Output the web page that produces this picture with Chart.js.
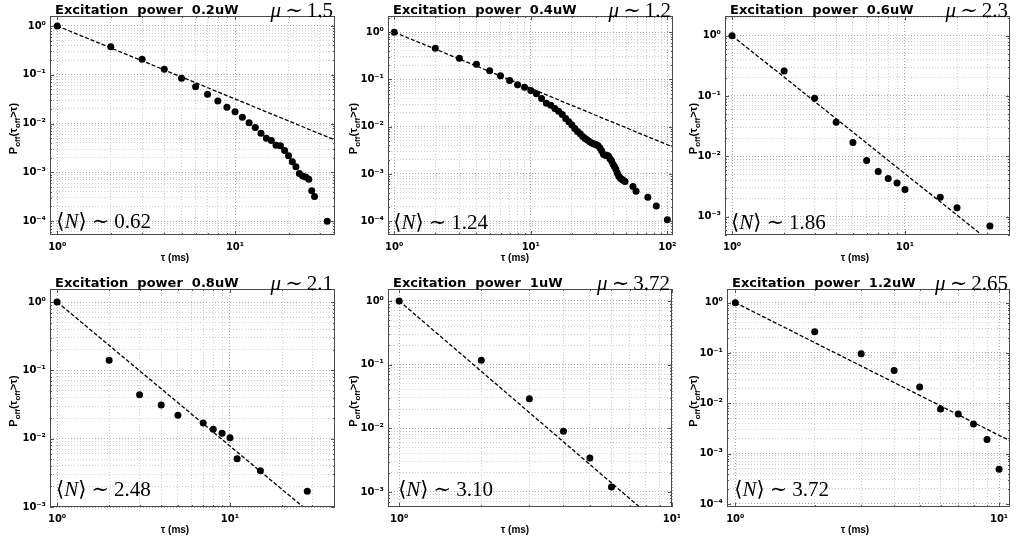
<!DOCTYPE html>
<html>
<head>
<meta charset="utf-8">
<script src="https://cdn.jsdelivr.net/npm/chart.js@4.4.1/dist/chart.umd.min.js"></script>
<style>
  html, body { margin: 0; padding: 0; background: #fff; }
  #wrap { position: relative; width: 1018px; height: 545px; overflow: hidden; }
  #wrap canvas { position: absolute; }
</style>
</head>
<body>
<div id="wrap"></div>
<script>
// Labels for the six panels
const powers = ['0.2uW', '0.4uW', '0.6uW', '0.8uW', '1uW', '1.2uW'];
const muValues = ['1.5', '1.2', '2.3', '2.1', '3.72', '2.65'];
const meanN = ['0.62', '1.24', '1.86', '2.48', '3.10', '3.72'];

// P_off(tau_off > tau)
const tau02 = [1, 2, 3, 4, 5, 6, 7, 8, 9, 10, 11, 12, 13, 14, 15, 16, 17, 18, 19, 20, 21, 22, 23, 24, 25, 26, 27, 28, 33];
const p02 = [1, 0.376, 0.207, 0.129, 0.085, 0.057, 0.040, 0.029, 0.0215, 0.0175, 0.0134, 0.0104, 0.0083, 0.0063, 0.0050,
  0.0045, 0.0036, 0.0035, 0.0028, 0.0022, 0.00165, 0.0013, 0.00095, 0.00084, 0.0008, 0.00072, 0.00042, 0.00032, 0.0001];

const tau04 = [1, 2, 3, 4, 5, 6, 7, 8, 9, 10, 11, 12, 13, 14, 15, 16, 17, 18, 19, 20, 21, 22, 23, 24, 25, 26, 27, 28, 29, 30,
  31, 32, 33, 34, 35, 36, 37, 38, 39, 40, 41, 42, 43, 44, 45, 46, 47, 48, 49, 56, 59, 72, 83, 100];
const p04 = [1, 0.458, 0.281, 0.21, 0.152, 0.119, 0.095, 0.077, 0.0686, 0.0584, 0.0497, 0.0395, 0.0314, 0.0285, 0.0242,
  0.0213, 0.0181, 0.0149, 0.0127, 0.0108, 0.0091, 0.0079, 0.0071, 0.0062, 0.0056, 0.0052, 0.0048, 0.0045, 0.0043, 0.0042,
  0.0040, 0.0036, 0.0031, 0.0026, 0.0025, 0.0025, 0.0024, 0.0021, 0.0019, 0.0016, 0.00144, 0.00126, 0.00105, 0.0009, 0.00083,
  0.00078, 0.00075, 0.00072, 0.00069, 0.00054, 0.00043, 0.00032, 0.00021, 0.000107];

const tau06 = [1, 2, 3, 4, 5, 6, 7, 8, 9, 10, 16, 20, 31];
const p06 = [1, 0.26, 0.0915, 0.0366, 0.0169, 0.0085, 0.0056, 0.0043, 0.0036, 0.0028, 0.0021, 0.0014, 0.0007];

const tau08 = [1, 2, 3, 4, 5, 7, 8, 9, 10, 11, 15, 28];
const p08 = [1, 0.14, 0.044, 0.031, 0.022, 0.017, 0.0137, 0.012, 0.0103, 0.0051, 0.0034, 0.0017];

const tau10 = [1, 2, 3, 4, 5, 6];
const p10 = [1, 0.117, 0.029, 0.009, 0.0034, 0.0012];

const tau12 = [1, 2, 3, 4, 5, 6, 7, 8, 9, 10];
const p12 = [1, 0.263, 0.097, 0.045, 0.021, 0.0077, 0.0061, 0.0039, 0.0019, 0.00049];

// power-law fits (dashed), end points
const fitTau = [[1, 36.5], [1, 110], [1, 27.7], [1, 26.5], [1, 7.6], [1, 11]];
const fitP = [[1, 0.0046], [1, 0.0037], [1, 0.0005], [1, 0.001], [1, 0.00058], [1, 0.0018]];

// axis limits
const xLims = [[0.91, 36.5], [0.9, 110], [0.91, 40.5], [0.91, 40.5], [0.91, 10], [0.93, 11]];
const yLims = [[5.2e-5, 1.6], [5.1e-5, 2.2], [4.95e-4, 2.12], [1e-3, 1.55], [5.8e-4, 1.54], [8.7e-5, 1.87]];

const tauSets = [tau02, tau04, tau06, tau08, tau10, tau12];
const pSets = [p02, p04, p06, p08, p10, p12];

// page layout: canvas cell and plot area (absolute px)
const cells = [
  { x: 0,   y: 0,   w: 340, h: 272, area: [50, 16, 335, 235],  nOff: 7 },
  { x: 340, y: 0,   w: 340, h: 272, area: [388, 16, 673, 235], nOff: 6 },
  { x: 680, y: 0,   w: 338, h: 272, area: [725, 16, 1010, 235], nOff: 6 },
  { x: 0,   y: 272, w: 340, h: 273, area: [50, 289, 335, 507], nOff: 11 },
  { x: 340, y: 272, w: 340, h: 273, area: [388, 289, 672, 507], nOff: 11 },
  { x: 680, y: 272, w: 338, h: 273, area: [727, 289, 1010, 507], nOff: 11 }
];

const SUP = { '0': '⁰', '1': '¹', '2': '²', '3': '³', '4': '⁴', '5': '⁵', '6': '⁶', '7': '⁷', '8': '⁸', '9': '⁹', '-': '⁻' };

function logTicks(scale) {
  const out = [];
  const k0 = Math.floor(Math.log10(scale.min)) - 1;
  const k1 = Math.ceil(Math.log10(scale.max)) + 1;
  for (let k = k0; k <= k1; k++) {
    for (let m = 1; m <= 9; m++) {
      const v = m * Math.pow(10, k);
      if (v >= scale.min * 0.9999 && v <= scale.max * 1.0001) out.push({ value: v, major: m === 1 });
    }
  }
  scale.ticks = out;
}

function tickLabel(value, index, ticks) {
  if (!ticks[index].major) return '';
  const e = Math.round(Math.log10(value)).toString();
  return '10' + e.split('').map(c => SUP[c]).join('');
}

// draws pieces of text one after another
function drawParts(ctx, parts, x, y) {
  parts.forEach(p => {
    ctx.font = p.font;
    ctx.fillText(p.t, x, y + (p.dy || 0));
    x += ctx.measureText(p.t).width + (p.gap || 0);
  });
}
function partsWidth(ctx, parts) {
  let w = 0;
  parts.forEach(p => { ctx.font = p.font; w += ctx.measureText(p.t).width + (p.gap || 0); });
  return w;
}

const SERIF = '21px "Liberation Serif", "DejaVu Serif", serif';
const SERIF_IT = 'italic 21px "Liberation Serif", "DejaVu Serif", serif';

function decorPlugin(i) {
  const c = cells[i];
  return {
    id: 'decor' + i,
    afterDraw(chart) {
      const { ctx, chartArea: a, scales: { x, y } } = chart;
      ctx.save();

      // inward tick marks, MATLAB style
      ctx.strokeStyle = '#555';
      ctx.lineWidth = 1;
      ctx.beginPath();
      x.ticks.forEach(t => {
        const px = Math.round(x.getPixelForValue(t.value)) + 0.5;
        const len = t.major ? 4 : 2;
        ctx.moveTo(px, a.bottom); ctx.lineTo(px, a.bottom - len);
        ctx.moveTo(px, a.top); ctx.lineTo(px, a.top + len);
      });
      y.ticks.forEach(t => {
        const py = Math.round(y.getPixelForValue(t.value)) + 0.5;
        const len = t.major ? 4 : 2;
        ctx.moveTo(a.left, py); ctx.lineTo(a.left + len, py);
        ctx.moveTo(a.right, py); ctx.lineTo(a.right - len, py);
      });
      ctx.stroke();

      // frame
      ctx.strokeStyle = '#4a4a4a';
      ctx.strokeRect(a.left + 0.5, a.top + 0.5, a.right - a.left - 1, a.bottom - a.top - 1);

      ctx.fillStyle = '#000';
      ctx.textAlign = 'left';
      ctx.textBaseline = 'alphabetic';

      // title
      ctx.font = 'bold 13px "DejaVu Sans", sans-serif';
      ctx.fillText('Excitation  power  ' + powers[i], a.left + 5, a.top - 2);

      // mu label, top right
      const mu = [
        { t: 'μ', font: SERIF_IT, gap: 4 },
        { t: '∼', font: SERIF, gap: 4 },
        { t: muValues[i], font: SERIF }
      ];
      drawParts(ctx, mu, a.right - 2 - partsWidth(ctx, mu), a.top + 1);

      // <N> label, bottom left
      const nl = [
        { t: '⟨', font: SERIF },
        { t: 'N', font: SERIF_IT },
        { t: '⟩', font: SERIF, gap: 5 },
        { t: '∼', font: SERIF, gap: 5 },
        { t: meanN[i], font: SERIF }
      ];
      drawParts(ctx, nl, x.getPixelForValue(1) - 1, a.bottom - c.nOff);

      // x axis title
      ctx.font = 'bold 10px "Liberation Sans", Arial, sans-serif';
      ctx.textAlign = 'center';
      ctx.fillText('τ (ms)', 175, a.bottom + 26);

      // y axis title with subscripts
      const B = 'bold 11px "Liberation Sans", Arial, sans-serif';
      const S = 'bold 8px "Liberation Sans", Arial, sans-serif';
      const yt = [
        { t: 'P', font: B },
        { t: 'off', font: S, dy: 3 },
        { t: '(τ', font: B },
        { t: 'off', font: S, dy: 3 },
        { t: '>τ)', font: B }
      ];
      ctx.textAlign = 'left';
      ctx.translate(17, (a.top + a.bottom) / 2 + 3);
      ctx.rotate(-Math.PI / 2);
      drawParts(ctx, yt, -partsWidth(ctx, yt) / 2, 0);

      ctx.restore();
    }
  };
}

function makeChart(i) {
  const c = cells[i];
  const [L, T, R, Bt] = c.area;
  const canvas = document.createElement('canvas');
  canvas.width = c.w;
  canvas.height = c.h;
  canvas.style.left = c.x + 'px';
  canvas.style.top = c.y + 'px';
  document.getElementById('wrap').appendChild(canvas);

  const pts = tauSets[i].map((t, k) => ({ x: t, y: pSets[i][k] }));
  const fit = fitTau[i].map((t, k) => ({ x: t, y: fitP[i][k] }));

  const gridColor = ctx => (ctx.tick && ctx.tick.major) ? '#a9a9a9' : '#cdcdcd';

  new Chart(canvas.getContext('2d'), {
    type: 'scatter',
    data: {
      datasets: [
        {
          data: pts,
          backgroundColor: '#000',
          borderColor: '#000',
          pointRadius: 3.5,
          pointHoverRadius: 3.5,
          borderWidth: 0,
          order: 0
        },
        {
          data: fit,
          showLine: true,
          borderColor: '#000',
          borderWidth: 1.3,
          borderDash: [4, 2],
          pointRadius: 0,
          pointHoverRadius: 0,
          order: 1
        }
      ]
    },
    options: {
      responsive: false,
      animation: false,
      devicePixelRatio: 1,
      events: [],
      layout: { padding: { left: 0, top: T - c.y, right: c.x + c.w - R, bottom: 0 } },
      plugins: { legend: { display: false }, tooltip: { enabled: false } },
      scales: {
        x: {
          type: 'logarithmic',
          min: xLims[i][0],
          max: xLims[i][1],
          afterBuildTicks: logTicks,
          afterFit: s => { s.height = c.y + c.h - Bt; s.paddingLeft = 0; s.paddingRight = 0; },
          grid: { color: gridColor, lineWidth: 1, drawTicks: false },
          border: { display: false, dash: [1, 2] },
          ticks: {
            autoSkip: false, maxRotation: 0, minRotation: 0, padding: 6,
            color: '#000',
            font: { family: 'DejaVu Sans', weight: 'bold', size: 10 },
            callback: tickLabel
          }
        },
        y: {
          type: 'logarithmic',
          min: yLims[i][0],
          max: yLims[i][1],
          afterBuildTicks: logTicks,
          afterFit: s => { s.width = L - c.x; s.paddingTop = 0; s.paddingBottom = 0; },
          grid: { color: gridColor, lineWidth: 1, drawTicks: false },
          border: { display: false, dash: [1, 2] },
          ticks: {
            autoSkip: false, padding: 4,
            color: '#000',
            font: { family: 'DejaVu Sans', weight: 'bold', size: 10 },
            callback: tickLabel
          }
        }
      }
    },
    plugins: [decorPlugin(i)]
  });
}

for (let i = 0; i < 6; i++) makeChart(i);
</script>
</body>
</html>
